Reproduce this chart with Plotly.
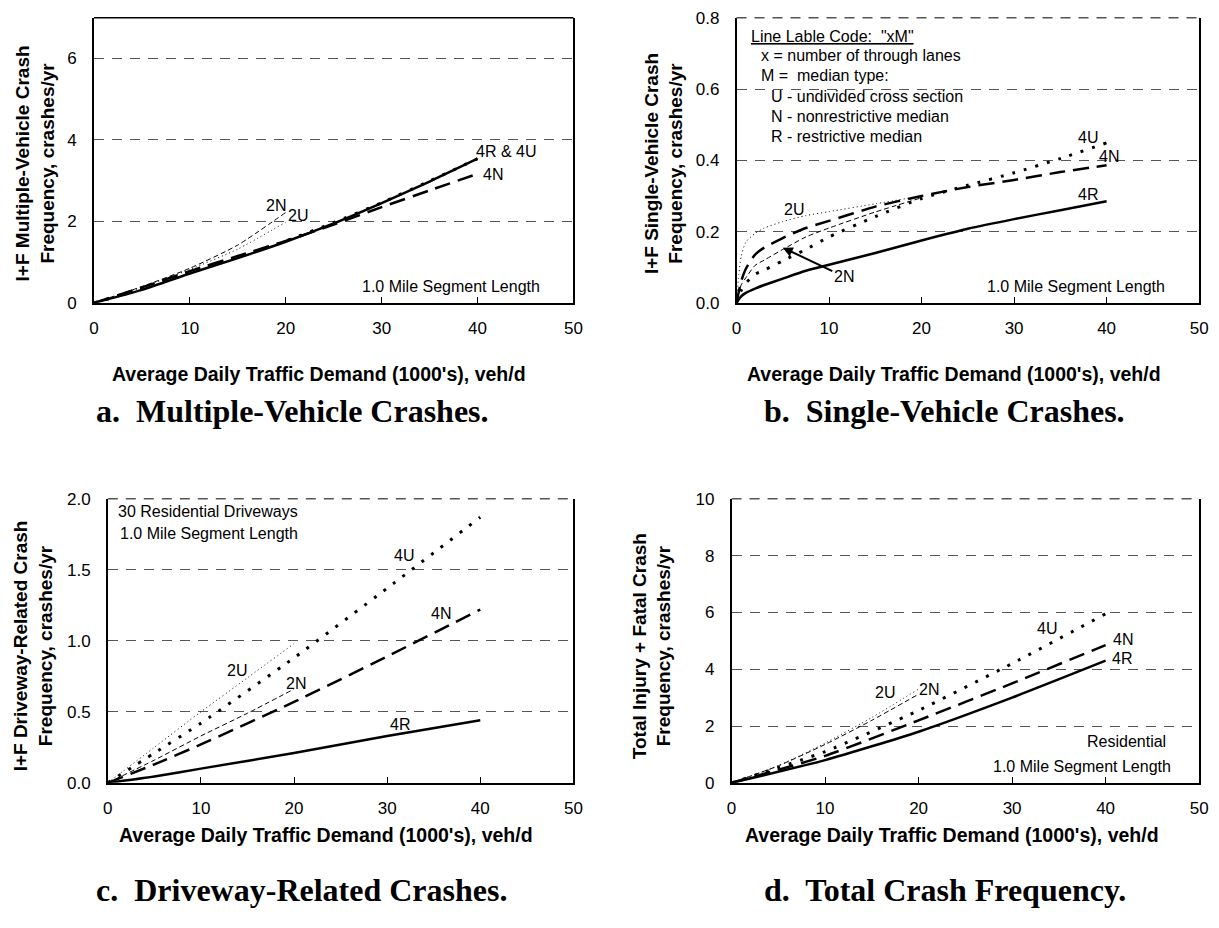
import plotly.graph_objects as go

W, H = 1219, 928

# ---------------- data: ADT (1000's veh/d) vs. crash frequency (crashes/yr) ----------------
# a. Multiple-vehicle crashes
a_x4 = [0, 5, 10, 15, 20, 25, 30, 35, 40]
a_4R = [0, 0.32, 0.72, 1.10, 1.50, 1.95, 2.45, 2.98, 3.54]
a_4U = [0, 0.34, 0.74, 1.12, 1.52, 1.97, 2.46, 2.99, 3.54]
a_4N = [0, 0.38, 0.78, 1.15, 1.52, 1.92, 2.35, 2.76, 3.17]
a_x2 = [0, 5, 10, 15, 20]
a_2N = [0, 0.40, 0.85, 1.42, 2.22]
a_2U = [0, 0.38, 0.82, 1.32, 1.98]

# b. Single-vehicle crashes
b_x4 = [0, 0.5, 1, 2, 3, 5, 7.5, 10, 15, 20, 25, 30, 35, 40]
b_4R = [0, 0.018, 0.028, 0.040, 0.050, 0.068, 0.090, 0.107, 0.140, 0.175, 0.208, 0.235, 0.260, 0.285]
b_4N = [0, 0.060, 0.095, 0.135, 0.155, 0.182, 0.210, 0.230, 0.270, 0.300, 0.325, 0.345, 0.367, 0.386]
b_4U = [0, 0.035, 0.055, 0.080, 0.092, 0.118, 0.150, 0.185, 0.242, 0.293, 0.330, 0.365, 0.405, 0.449]
b_x2 = [0, 0.25, 0.5, 1, 2, 3, 5, 7.5, 10, 15, 20]
b_2U = [0, 0.080, 0.130, 0.170, 0.195, 0.210, 0.228, 0.245, 0.256, 0.278, 0.300]
b_2N = [0, 0.030, 0.050, 0.070, 0.105, 0.120, 0.150, 0.185, 0.210, 0.255, 0.295]

# c. Driveway-related crashes
c_x4 = [0, 5, 10, 20, 30, 40]
c_4U = [0, 0.21, 0.42, 0.88, 1.37, 1.87]
c_4N = [0, 0.13, 0.27, 0.57, 0.89, 1.22]
c_4R = [0, 0.045, 0.10, 0.21, 0.33, 0.44]
c_x2 = [0, 5, 10, 15, 20]
c_2U = [0, 0.25, 0.50, 0.74, 0.98]
c_2N = [0, 0.16, 0.33, 0.49, 0.66]

# d. Total crash frequency
d_x4 = [0, 10, 20, 30, 40]
d_4U = [0, 1.10, 2.55, 4.20, 5.95]
d_4N = [0, 0.95, 2.20, 3.50, 4.85]
d_4R = [0, 0.80, 1.80, 3.00, 4.30]
d_x2 = [0, 5, 10, 15, 20]
d_2U = [0, 0.60, 1.40, 2.30, 3.30]
d_2N = [0, 0.60, 1.35, 2.20, 3.12]

x_ticks = [0, 10, 20, 30, 40, 50]

# ---------------- styles ----------------
SANS = "Liberation Sans"
SERIF = "Liberation Serif"
STYLE = {
    "4R": dict(color="black", width=2.5, dash="solid"),
    "4N": dict(color="black", width=2.5, dash="16px,8px"),
    "4U": dict(color="black", width=3, dash="3px,9px"),
    "2U": dict(color="black", width=1, dash="1px,3px"),
    "2N": dict(color="black", width=1, dash="5px,3px"),
}
GRID = "#555555"
GRID_DASH = "10px,8px"


def px(v):
    return v / W


def py(v):
    return 1 - v / H


fig = go.Figure()


def add(xs, ys, key, n):
    fig.add_trace(go.Scatter(
        x=xs, y=ys, mode="lines", line=dict(STYLE[key], shape="spline", smoothing=0.6),
        xaxis="x" if n == 1 else f"x{n}", yaxis="y" if n == 1 else f"y{n}",
        showlegend=False, hoverinfo="skip"))


add(a_x2, a_2U, "2U", 1); add(a_x2, a_2N, "2N", 1)
add(a_x4, a_4N, "4N", 1); add(a_x4, a_4U, "4U", 1); add(a_x4, a_4R, "4R", 1)

add(b_x2, b_2U, "2U", 2); add(b_x2, b_2N, "2N", 2)
add(b_x4, b_4U, "4U", 2); add(b_x4, b_4N, "4N", 2); add(b_x4, b_4R, "4R", 2)

add(c_x2, c_2U, "2U", 3); add(c_x2, c_2N, "2N", 3)
add(c_x4, c_4U, "4U", 3); add(c_x4, c_4N, "4N", 3); add(c_x4, c_4R, "4R", 3)

add(d_x2, d_2U, "2U", 4); add(d_x2, d_2N, "2N", 4)
add(d_x4, d_4U, "4U", 4); add(d_x4, d_4N, "4N", 4); add(d_x4, d_4R, "4R", 4)

# panel boxes in pixels: left, right, top, bottom
BOX = {
    1: (90, 575, 9, 300),
    2: (740, 1208, 9, 300),
    3: (104, 575, 500, 790),
    4: (735, 1208, 500, 790),
}
YR = {1: ([0, 7], 2, ".0f"), 2: ([0, 0.8], 0.2, ".1f"),
      3: ([0, 2.0], 0.5, ".1f"), 4: ([0, 10], 2, ".0f")}

tickfont = dict(family=SANS, size=17, color="black")
for n, (l, r, t, b) in BOX.items():
    sfx = "" if n == 1 else str(n)
    rng, dt, fmt = YR[n]
    fig.layout[f"xaxis{sfx}"] = dict(
        domain=[px(l), px(r)], anchor=f"y{sfx}", range=[0, 50], tickvals=x_ticks,
        ticks="inside", ticklen=6, tickcolor="black", tickwidth=1,
        showline=True, linecolor="black", linewidth=1.5, mirror=False,
        showgrid=False, zeroline=False, tickfont=tickfont, ticklabelstandoff=9,
        fixedrange=True)
    fig.layout[f"yaxis{sfx}"] = dict(
        domain=[py(b), py(t)], anchor=f"x{sfx}", range=rng, dtick=dt, tick0=0,
        tickformat=fmt, ticks="", showline=True, linecolor="black", linewidth=1.5,
        mirror=True, showgrid=True, gridcolor=GRID, gridwidth=1,
        griddash=GRID_DASH, zeroline=False, tickfont=tickfont, ticklabelstandoff=12,
        fixedrange=True)

# top edge of each panel: solid in a, dashed grid-style elsewhere
l, r, t, b = BOX[1]
shapes = [dict(type="line", xref="paper", yref="paper", x0=px(l), x1=px(r),
               y0=py(t), y1=py(t), line=dict(color="black", width=1.5))]
for n in (2, 3, 4):
    l, r, t, b = BOX[n]
    shapes.append(dict(type="line", xref="paper", yref="paper", x0=px(l), x1=px(r),
                       y0=py(t), y1=py(t), line=dict(color=GRID, width=1.5, dash=GRID_DASH)))
fig.update_layout(shapes=shapes)

ann = []
LBL = 16


def label(n, x, y, text, size=LBL, xanchor="center"):
    sfx = "" if n == 1 else str(n)
    ann.append(dict(xref=f"x{sfx}", yref=f"y{sfx}", x=x, y=y, text=text, showarrow=False,
                    xanchor=xanchor, yanchor="middle",
                    font=dict(family=SANS, size=size, color="black")))


# a
label(1, 43.0, 3.72, "4R &amp; 4U")
label(1, 41.6, 3.14, "4N")
label(1, 19.0, 2.40, "2N")
label(1, 21.3, 2.14, "2U")
label(1, 37.2, 0.39, "1.0 Mile Segment Length")

# b
label(2, 6.2, 0.263, "2U")
label(2, 38.0, 0.463, "4U")
label(2, 40.3, 0.412, "4N")
label(2, 38.0, 0.303, "4R")
label(2, 36.7, 0.046, "1.0 Mile Segment Length")
legend_lines = [
    (1.3, 0.748, "<u>Line Lable Code:  \"xM\"</u>"),
    (2.4, 0.695, "x = number of through lanes"),
    (2.4, 0.637, "M =  median type:"),
    (3.5, 0.579, "U - undivided cross section"),
    (3.5, 0.522, "N - nonrestrictive median"),
    (3.5, 0.467, "R - restrictive median"),
]
for x, y, t in legend_lines:
    label(2, x, y, t, xanchor="left")
ann.append(dict(xref="x2", yref="y2", axref="x2", ayref="y2", x=5.0, y=0.155,
                ax=11.6, ay=0.074, text="2N", showarrow=True, arrowhead=2,
                arrowsize=1, arrowwidth=2, arrowcolor="black",
                font=dict(family=SANS, size=LBL, color="black")))

# c
label(3, 0.9, 1.91, "30 Residential Driveways", xanchor="left")
label(3, 1.1, 1.757, "1.0 Mile Segment Length", xanchor="left")
label(3, 31.8, 1.60, "4U")
label(3, 35.8, 1.19, "4N")
label(3, 13.9, 0.79, "2U")
label(3, 20.2, 0.70, "2N")
label(3, 31.4, 0.41, "4R")

# d
label(4, 33.7, 5.45, "4U")
label(4, 41.9, 5.06, "4N")
label(4, 41.7, 4.37, "4R")
label(4, 16.4, 3.18, "2U")
label(4, 21.1, 3.28, "2N")
label(4, 42.2, 1.46, "Residential")
label(4, 37.5, 0.59, "1.0 Mile Segment Length")

# axis titles and captions
ytitles = [
    (30, 158, "I+F Multiple-Vehicle Crash<br>Frequency, crashes/yr"),
    (666, 158, "I+F Single-Vehicle Crash<br>Frequency, crashes/yr"),
    (28, 650, "I+F Driveway-Related Crash<br>Frequency, crashes/yr"),
    (654, 650, "Total Injury + Fatal Crash<br>Frequency, crashes/yr"),
]
for x, y, t in ytitles:
    ann.append(dict(xref="paper", yref="paper", x=px(x), y=py(y), text=f"<b>{t}</b>",
                    textangle=-90, showarrow=False, xanchor="center", yanchor="middle",
                    font=dict(family=SANS, size=19, color="black")))

xtitle = "<b>Average Daily Traffic Demand (1000's), veh/d</b>"
for x, y in [(318, 373), (960, 373), (325, 843), (958, 843)]:
    ann.append(dict(xref="paper", yref="paper", x=px(x), y=py(y), text=xtitle,
                    showarrow=False, xanchor="center", yanchor="middle",
                    font=dict(family=SANS, size=19.5, color="black")))

captions = [
    (90, 410, "a.  Multiple-Vehicle Crashes."),
    (766, 410, "b.  Single-Vehicle Crashes."),
    (90, 899, "c.  Driveway-Related Crashes."),
    (766, 899, "d.  Total Crash Frequency."),
]
for x, y, t in captions:
    ann.append(dict(xref="paper", yref="paper", x=px(x), y=py(y), text=f"<b>{t}</b>",
                    showarrow=False, xanchor="left", yanchor="middle",
                    font=dict(family=SERIF, size=32, color="black")))

fig.update_layout(
    annotations=ann,
    width=W, height=H, margin=dict(l=0, r=0, t=0, b=0),
    paper_bgcolor="white", plot_bgcolor="white",
    showlegend=False,
)

fig.write_html("out.html", config={"displayModeBar": False})
